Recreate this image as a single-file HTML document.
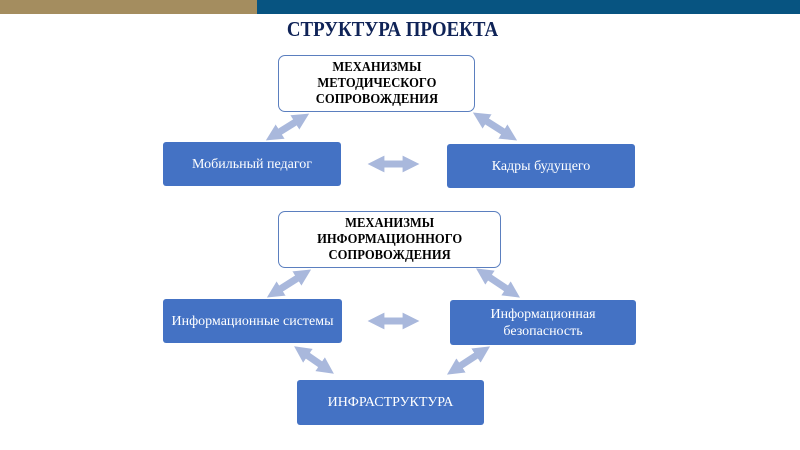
<!DOCTYPE html>
<html><head><meta charset="utf-8"><style>
body{margin:0;width:800px;height:450px;background:#fff;position:relative;overflow:hidden;font-family:"Liberation Serif",serif}
.bar{position:absolute;top:0;height:14px}
.t{position:absolute;left:0;width:785px;top:17px;text-align:center;font-weight:bold;font-size:21px;color:#0f2357;transform:scaleX(0.9)}
.w{position:absolute;background:#fff;border:1.5px solid #5b7fbf;border-radius:7px;display:flex;align-items:center;justify-content:center;text-align:center;font-weight:bold;font-size:14px;line-height:16px;color:#000;box-sizing:border-box}
.w span{display:inline-block;transform:scaleX(0.9)}
.b{position:absolute;background:#4472c4;border-radius:3px;display:flex;align-items:center;justify-content:center;text-align:center;color:#fff;font-size:14px;line-height:17px;box-sizing:border-box}
svg{position:absolute;left:0;top:0}
</style></head><body>
<div class="bar" style="left:0;width:257px;background:#a48d5f"></div>
<div class="bar" style="left:257px;width:543px;background:#075481"></div>
<div class="t">СТРУКТУРА ПРОЕКТА</div>
<div class="w" style="left:278px;top:55px;width:197px;height:57px"><span>МЕХАНИЗМЫ<br>МЕТОДИЧЕСКОГО<br>СОПРОВОЖДЕНИЯ</span></div>
<div class="b" style="left:163px;top:142px;width:178px;height:44px">Мобильный педагог</div>
<div class="b" style="left:447px;top:144px;width:188px;height:44px">Кадры будущего</div>
<div class="w" style="left:278px;top:211px;width:223px;height:57px"><span>МЕХАНИЗМЫ<br>ИНФОРМАЦИОННОГО<br>СОПРОВОЖДЕНИЯ</span></div>
<div class="b" style="left:163px;top:299px;width:179px;height:44px">Информационные системы</div>
<div class="b" style="left:450px;top:300px;width:186px;height:45px">Информационная<br>безопасность</div>
<div class="b" style="left:297px;top:380px;width:187px;height:45px">ИНФРАСТРУКТУРА</div>
<svg width="800" height="450">
<defs><marker id="m" viewBox="0 0 10 10" refX="5" refY="5" markerWidth="2.4" markerHeight="2.4" orient="auto-start-reverse"><path d="M0,0L10,5L0,10z" fill="#a9b8dc"/></marker></defs>
<g stroke="#a9b8dc" stroke-width="7" fill="none" marker-start="url(#m)" marker-end="url(#m)">
<line x1="302" y1="118" x2="273" y2="136"/>
<line x1="480" y1="117" x2="510" y2="136"/>
<line x1="376" y1="164" x2="411" y2="164"/>
<line x1="304" y1="274" x2="274" y2="293"/>
<line x1="483" y1="273" x2="513" y2="293"/>
<line x1="376" y1="321" x2="411" y2="321"/>
<line x1="301" y1="351" x2="327" y2="369"/>
<line x1="483" y1="351" x2="454" y2="370"/>
</g></svg>
</body></html>
